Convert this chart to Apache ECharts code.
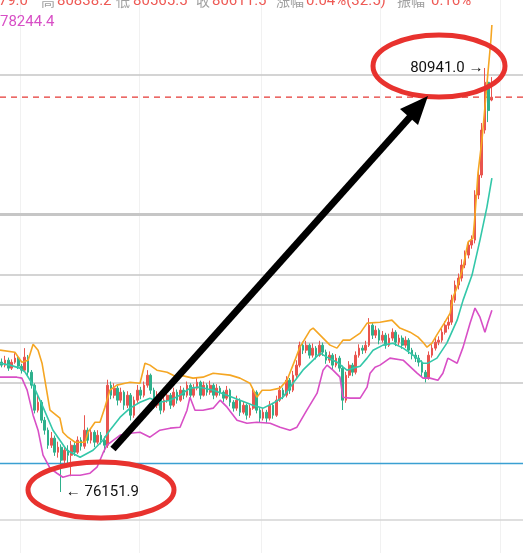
<!DOCTYPE html>
<html><head><meta charset="utf-8">
<script src="https://cdn.jsdelivr.net/npm/echarts@6/dist/echarts.min.js"></script>
<style>html,body{margin:0;padding:0;background:#fff;overflow:hidden}#c{width:523px;height:553px}</style>
</head><body><div id="c"></div>
<script>
// ---- data ----
const opens=[77620,77585,77641,77551,77618,77664,77573,77528,77675,77505,
77358,77076,77166,76963,76850,76680,76760,76601,76658,76511,
76624,76567,76680,76601,76737,76669,76850,76737,76827,76714,
76793,76737,76680,77358,77245,77325,77189,77279,77132,77245,
77019,77189,77302,77245,77358,77471,77302,77132,77245,77076,
77189,77245,77132,77279,77189,77302,77245,77358,77245,77325,
77392,77245,77358,77279,77358,77245,77325,77279,77212,77302,
77166,77099,77189,77053,77132,77019,77099,77279,77076,76986,
77053,76986,77132,77019,77189,77302,77245,77415,77302,77471,
77585,77810,77754,77810,77697,77777,77697,77810,77731,77641,
77697,77585,77664,77551,77189,77471,77585,77505,77697,77777,
77754,77810,78036,77923,77980,77867,77923,77810,77890,77957,
77844,77890,77810,77867,77754,77697,77664,77618,77505,77438,
77697,77777,77844,77867,77957,78036,78070,78319,78489,78568,
78715,78828,78941,78997,79506,79732,80240,80780,80579.0];
const closes=[77585,77641,77551,77618,77664,77573,77528,77675,77505,77358,
77076,77166,76963,76850,76680,76760,76601,76658,76511,76624,
76567,76680,76601,76737,76669,76850,76737,76827,76714,76793,
76737,76680,77358,77245,77325,77189,77279,77132,77245,77019,
77189,77302,77245,77358,77471,77302,77132,77245,77076,77189,
77245,77132,77279,77189,77302,77245,77358,77245,77325,77392,
77245,77358,77279,77358,77245,77325,77279,77212,77302,77166,
77099,77189,77053,77132,77019,77099,77279,77076,76986,77053,
76986,77132,77019,77189,77302,77245,77415,77302,77471,77585,
77810,77754,77810,77697,77777,77697,77810,77731,77641,77697,
77585,77664,77551,77189,77471,77585,77505,77697,77777,77754,
77810,78036,77923,77980,77867,77923,77810,77890,77957,77844,
77890,77810,77867,77754,77697,77664,77618,77505,77438,77697,
77777,77844,77867,77957,78036,78070,78319,78489,78568,78715,
78828,78941,78997,79506,79732,80240,80780,80460,80611.5];
const highs=[77660,77690,77670,77650,77720,77690,77600,77777,77700,77530,
77380,77250,77190,77000,76880,76830,76790,76720,76690,76660,
76680,76730,76720,76780,76770,77019,76880,76870,76850,76850,
76830,76780,77420,77400,77380,77350,77330,77300,77290,77270,
77230,77360,77340,77400,77528,77490,77330,77290,77270,77240,
77300,77270,77330,77310,77350,77330,77400,77380,77370,77440,
77410,77400,77380,77410,77380,77370,77350,77300,77350,77320,
77190,77240,77210,77180,77150,77140,77330,77300,77100,77100,
77080,77180,77160,77240,77350,77330,77460,77440,77520,77640,
77850,77850,77860,77830,77830,77800,77860,77840,77760,77740,
77720,77710,77690,77580,77510,77630,77610,77740,77820,77810,
77860,78116,78060,78030,78000,77970,77950,77940,78000,77980,
77930,77920,77910,77890,77780,77730,77700,77640,77530,77740,
77820,77890,77910,78000,78080,78140,78380,78540,78620,78780,
78880,78990,79050,79560,79800,80320,80941.0,80850,80838.2];
const lows=[77560,77560,77520,77530,77600,77540,77490,77510,77470,77320,
77040,77050,76930,76800,76640,76650,76560,76540,76151.9,76480,
76450,76330,76560,76580,76620,76640,76700,76700,76660,76690,
76690,76600,76650,77200,77210,77130,77160,77080,77100,76960,
76990,77160,77200,77220,77330,77260,77090,77100,77030,77050,
77160,77090,77110,77150,77170,77200,77220,77210,77220,77300,
77200,77230,77240,77250,77200,77220,77240,77170,77190,77120,
77060,77070,77010,77030,76970,76990,77080,77040,76940,76960,
76930,76960,76980,77000,77170,77200,77220,77260,77280,77440,
77560,77710,77720,77660,77670,77650,77680,77690,77600,77610,
77540,77560,77510,77078,77160,77440,77460,77480,77670,77710,
77720,77790,77880,77890,77820,77840,77770,77790,77860,77800,
77810,77770,77780,77710,77650,77620,77570,77460,77390,77420,
77670,77750,77810,77840,77930,77990,78040,78290,78440,78530,
78680,78790,78900,78960,79460,79700,80200,80330,80565.5];

// Bollinger bands, [candle index, value]
const upperBand=[[-0.5,77754],[4.0,77731],[6.1,77618],[8.0,77641],[9.5,77822],[11.0,77754],[12.2,77607],[14.6,77076],[17.6,76986],[18.5,76827],[20.0,76771],[22.2,76714],[25.2,76714],[26.1,76827],[28.2,76940],[29.7,76940],[31.2,77110],[32.7,77302],[34.8,77359],[37.3,77381],[38.8,77392],[41.8,77381],[43.3,77607],[44.8,77585],[46.9,77528],[50.0,77505],[53.0,77449],[53.9,77472],[57.8,77438],[60.8,77449],[63.9,77494],[69.0,77472],[72.0,77438],[75.0,77381],[77.1,77223],[78.7,77302],[81.1,77302],[84.1,77325],[86.2,77415],[88.6,77641],[90.1,77788],[93.2,77980],[94.1,78003],[96.2,77924],[99.2,77811],[101.3,77777],[103.1,77867],[105.2,77867],[108.3,77946],[110.4,78059],[114.3,78070],[117.9,78093],[120.3,78003],[123.4,77957],[125.8,77901],[127.3,77844],[128.5,77788],[130.0,77833],[131.8,77946],[133.9,78070],[135.5,78172],[136.4,78353],[137.6,78466],[139.4,78692],[140.9,78974],[142.4,79020],[143.0,79280],[143.9,79754],[145.1,80127],[146.0,80500],[146.9,80884],[147.8,81257],[148.1,81427]];
const midBand=[[-0.5,77607],[2.5,77585],[5.5,77551],[7.1,77505],[9.5,77359],[12.5,77110],[15.5,76850],[19.7,76624],[23.7,76545],[27.6,76624],[30.6,76737],[32.7,76850],[35.8,76997],[38.8,77099],[41.8,77166],[44.8,77212],[47.8,77166],[50.9,77189],[53.9,77246],[56.9,77325],[59.9,77336],[63.9,77302],[68.1,77246],[72.0,77189],[75.9,77133],[79.0,77099],[82.0,77155],[85.0,77223],[88.0,77381],[91.0,77528],[94.1,77641],[96.2,77720],[98.3,77675],[101.3,77618],[104.3,77528],[106.1,77551],[108.3,77573],[110.4,77664],[112.2,77754],[115.2,77811],[118.2,77833],[121.3,77777],[124.3,77698],[127.3,77607],[128.8,77607],[131.5,77664],[134.5,77833],[137.6,78093],[139.4,78319],[142.1,78602],[144.5,78997],[146.6,79370],[148.1,79698]];
const lowerBand=[[-0.5,77449],[4.6,77449],[6.1,77438],[7.7,77302],[9.5,77020],[11.0,76850],[12.5,76568],[14.6,76421],[16.7,76364],[18.5,76319],[20.6,76342],[23.7,76342],[26.7,76364],[28.8,76432],[30.6,76590],[31.8,76681],[35.8,76794],[38.8,76816],[41.8,76827],[44.8,76771],[47.8,76850],[50.9,76873],[53.9,76884],[56.0,77076],[56.9,77223],[58.4,77076],[60.8,77076],[63.9,77099],[66.0,77189],[68.1,77110],[71.1,76963],[74.1,76929],[77.1,76940],[81.1,76929],[84.1,76884],[87.1,76850],[89.2,76884],[92.2,77076],[95.3,77268],[97.1,77528],[98.3,77585],[100.1,77528],[102.2,77449],[103.1,77223],[105.2,77212],[108.3,77212],[110.4,77336],[111.3,77494],[112.8,77562],[114.3,77585],[117.3,77664],[121.3,77641],[125.5,77494],[127.3,77438],[129.4,77438],[131.8,77415],[133.3,77494],[134.8,77664],[137.6,77607],[139.4,77788],[141.5,78059],[143.0,78229],[144.5,78127],[146.0,77957],[146.9,78070],[148.1,78206]];

const levelLines=[80862,79291,78602,78270,77833,77381]; // gray levels
const thickLevel=79291;
const supportLevel=76477;  // blue line
const bottomLevel=75833;
const headerVals={open:'80579.0',high:'80838.2',low:'80565.5',close:'80611.5',change:'0.04%(32.5)',amp:'0.16%'};
const bandLabel='78244.4';
const TOTAL_SLOTS=158;
const gridBreaks=[6,42,79,115,151];

// ---- chart ----
const cats=Array.from({length:TOTAL_SLOTS},(_,i)=>String(i));
const candles=opens.map((o,i)=>[o,closes[i],lows[i],highs[i]]);
let maxI=0,minI=0;
highs.forEach((h,i)=>{if(h>highs[maxI])maxI=i;});
lows.forEach((l,i)=>{if(l<lows[minI])minI=i;});
const lastClose=closes[closes.length-1];

const gray='#c6c6c6';
const mlData=levelLines.map(v=>({yAxis:v,lineStyle:{color:gray,width:v===thickLevel?3:1.5,type:'solid'}}));
mlData.push({yAxis:supportLevel,lineStyle:{color:'#3aa0d2',width:1.3,type:'solid'}});
mlData.push({yAxis:bottomLevel,lineStyle:{color:'#d4d4d4',width:1.5,type:'solid'}});

const chart=echarts.init(document.getElementById('c'),null,{renderer:'canvas'});
const F='Roboto, "Noto Sans", sans-serif';
const CJK='"Noto Sans CJK SC", sans-serif';
const red='#ee5a55', lab='#a0a0a0';
function t(x,text,fill,align,font){return {type:'text',x:x,y:1,z:100,style:{text:text,fill:fill,font:font||('15px '+F),align:align||'left',verticalAlign:'middle'}};}
chart.setOption({
  animation:false,
  backgroundColor:'#fff',
  grid:{left:0,right:0,top:0,bottom:0},
  xAxis:[
    {type:'category',data:cats,boundaryGap:true,axisLine:{show:false},axisTick:{show:false},axisLabel:{show:false},
     splitLine:{show:true,interval:(i)=>gridBreaks.includes(i),lineStyle:{color:'#f1f1f1',width:1}}},
    {type:'value',min:-0.5,max:TOTAL_SLOTS-0.5,show:false}
  ],
  yAxis:{type:'value',min:75463,max:81709,show:false,splitLine:{show:false}},
  series:[
    {type:'candlestick',data:candles,barWidth:'66%',
     itemStyle:{color:'#e9544e',color0:'#2eb08c',borderColor:'#e9544e',borderColor0:'#2eb08c',borderWidth:1},
     markLine:{silent:true,symbol:['none','none'],label:{show:false},data:mlData,z:1},
     markPoint:{symbol:'circle',symbolSize:1,itemStyle:{color:'rgba(0,0,0,0)'},
       data:[
        {coord:[maxI,highs[maxI]],label:{show:true,position:'left',distance:1,formatter:highs[maxI].toFixed(1)+' →',color:'#111',fontSize:15,fontFamily:F}},
        {coord:[minI,lows[minI]],label:{show:true,position:'right',distance:4,formatter:'← '+lows[minI].toFixed(1),color:'#111',fontSize:15,fontFamily:F}}
       ]}},
    {type:'line',xAxisIndex:1,data:[[-0.5,lastClose],[TOTAL_SLOTS-0.5,lastClose]],showSymbol:false,silent:true,
     lineStyle:{color:'#e53935',width:1.2,type:[6,5]},z:2},
    {type:'line',xAxisIndex:1,data:upperBand,showSymbol:false,lineStyle:{color:'#f5a623',width:1.6},z:3},
    {type:'line',xAxisIndex:1,data:midBand,showSymbol:false,lineStyle:{color:'#33c7a9',width:1.6},z:3},
    {type:'line',xAxisIndex:1,data:lowerBand,showSymbol:false,lineStyle:{color:'#d84fc6',width:1.6},z:3}
  ],
  graphic:[
    t(28,headerVals.open,red,'right'),
    t(41,'高',lab,'left','14px '+CJK),
    t(57,headerVals.high,red),
    t(116,'低',lab,'left','14px '+CJK),
    t(133,headerVals.low,red),
    t(196,'收',lab,'left','14px '+CJK),
    t(212,headerVals.close,red),
    t(276,'涨幅',lab,'left','14px '+CJK),
    t(306,headerVals.change,red),
    t(397,'振幅',lab,'left','14px '+CJK),
    t(431,headerVals.amp,red),
    {type:'text',x:0,y:22,z:100,style:{text:bandLabel,fill:'#d84fc6',font:'15px '+F,verticalAlign:'middle'}},
    {type:'ellipse',z:200,shape:{cx:439,cy:66,rx:66,ry:31},style:{fill:'none',stroke:'#e8322e',lineWidth:5}},
    {type:'ellipse',z:200,shape:{cx:101,cy:490,rx:73,ry:28},style:{fill:'none',stroke:'#e8322e',lineWidth:5}},
    {type:'line',z:200,shape:{x1:113,y1:449,x2:410,y2:117},style:{stroke:'#000',lineWidth:7}},
    {type:'polygon',z:200,shape:{points:[[428,96],[418,125],[400,109]]},style:{fill:'#000'}}
  ]
});
</script></body></html>
